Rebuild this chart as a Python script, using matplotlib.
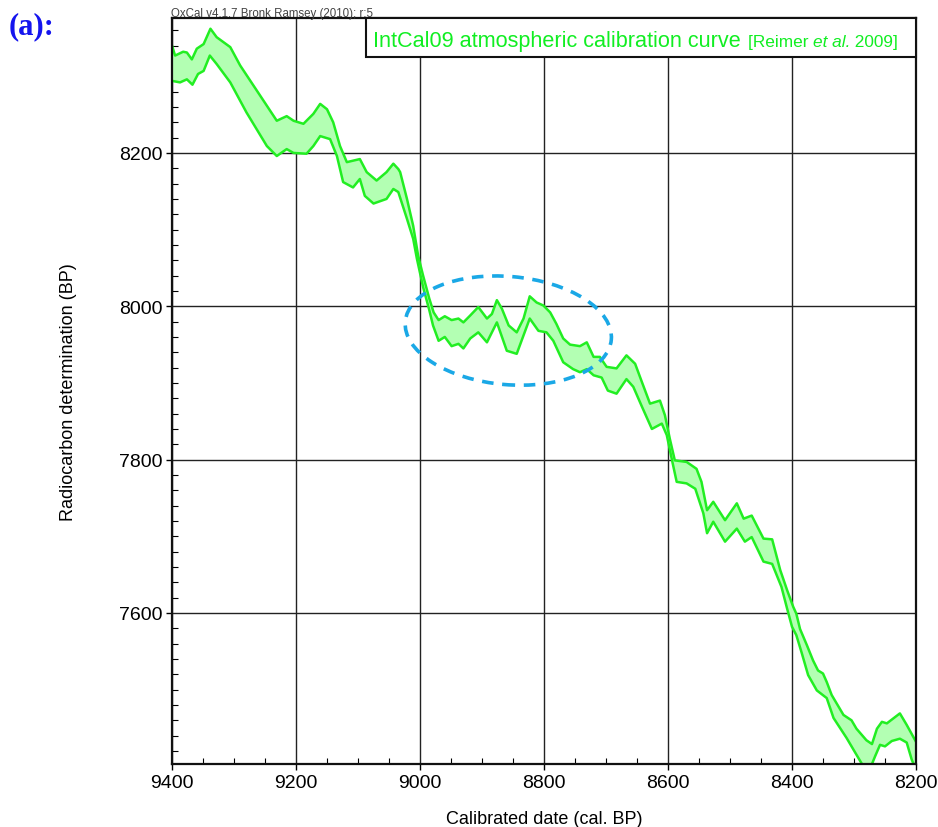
import matplotlib.pyplot as plt
from matplotlib.patches import Ellipse, Rectangle
import numpy as np

plt.rcParams['font.family'] = ['Liberation Sans', 'DejaVu Sans']

# IntCal09 band, upper edge (cal BP, 14C BP)
upper_x = [9400, 9395, 9382, 9376, 9368, 9360, 9349, 9338, 9328, 9306, 9290, 9258,
           9231, 9215, 9204, 9188, 9172, 9161, 9150, 9140, 9129, 9118, 9097, 9086,
           9070, 9054, 9043, 9035, 9032, 9021, 9011, 9003, 8995, 8985, 8978, 8970,
           8960, 8949, 8938, 8930, 8919, 8906, 8892, 8884, 8876, 8868, 8857, 8844,
           8833, 8823, 8812, 8801, 8790, 8780, 8769, 8758, 8742, 8731, 8720, 8710,
           8699, 8683, 8667, 8653, 8642, 8629, 8613, 8605, 8597, 8589, 8570, 8554,
           8546, 8537, 8527, 8508, 8489, 8478, 8465, 8446, 8432, 8419, 8408, 8398,
           8393, 8387, 8376, 8366, 8358, 8350, 8344, 8336, 8317, 8304, 8296, 8280,
           8271, 8263, 8255, 8247, 8226, 8215, 8200]
upper_y = [8340, 8327, 8332, 8331, 8322, 8336, 8342, 8362, 8351, 8338, 8314, 8275,
           8242, 8248, 8242, 8238, 8251, 8264, 8257, 8240, 8209, 8188, 8192, 8175,
           8164, 8175, 8186, 8179, 8175, 8140, 8105, 8066, 8040, 8010, 7992, 7982,
           7987, 7982, 7984, 7979, 7988, 7999, 7984, 7990, 8008, 7997, 7975, 7966,
           7984, 8013, 8005, 8001, 7992, 7977, 7958, 7950, 7948, 7953, 7934, 7934,
           7921, 7919, 7936, 7925, 7901, 7873, 7877, 7858, 7827, 7799, 7797, 7788,
           7771, 7734, 7745, 7721, 7743, 7723, 7727, 7697, 7696, 7656, 7630, 7608,
           7599, 7579, 7558, 7538, 7525, 7521, 7510, 7493, 7467, 7460, 7449, 7434,
           7429, 7449, 7458, 7456, 7469, 7454, 7432]

# lower edge
lower_x = [9400, 9387, 9376, 9367, 9358, 9349, 9339, 9328, 9306, 9280, 9247, 9231,
           9215, 9204, 9183, 9172, 9161, 9145, 9134, 9124, 9108, 9097, 9089, 9075,
           9054, 9043, 9035, 9021, 9011, 9005, 8995, 8985, 8979, 8970, 8960, 8949,
           8938, 8930, 8919, 8906, 8892, 8876, 8860, 8844, 8823, 8809, 8796, 8785,
           8769, 8753, 8742, 8731, 8720, 8707, 8697, 8683, 8667, 8656, 8642, 8626,
           8610, 8602, 8594, 8586, 8570, 8556, 8543, 8537, 8527, 8508, 8489, 8476,
           8465, 8446, 8432, 8417, 8408, 8400, 8393, 8384, 8374, 8360, 8344, 8333,
           8312, 8285, 8275, 8266, 8258, 8250, 8239, 8226, 8215, 8207, 8200]
lower_y = [8294, 8292, 8296, 8289, 8303, 8307, 8327, 8316, 8292, 8253, 8209, 8196,
           8205, 8200, 8199, 8209, 8222, 8218, 8196, 8162, 8155, 8166, 8144, 8134,
           8140, 8153, 8149, 8114, 8088, 8062, 8025, 7995, 7975, 7955, 7960, 7948,
           7951, 7945, 7958, 7966, 7953, 7979, 7942, 7938, 7984, 7968, 7966, 7955,
           7927, 7918, 7914, 7918, 7910, 7907, 7890, 7886, 7905, 7895, 7869, 7840,
           7847, 7832, 7801, 7771, 7769, 7762, 7730, 7704, 7719, 7693, 7710, 7693,
           7699, 7667, 7664, 7634, 7606, 7582, 7571, 7547, 7519, 7499, 7489, 7463,
           7437, 7400, 7395, 7413, 7428, 7426, 7433, 7436, 7431, 7409, 7395]

x_ticks = [9400, 9200, 9000, 8800, 8600, 8400, 8200]
y_ticks = [7600, 7800, 8000, 8200]

line_green = '#22ee22'
fill_green = '#b3ffb3'
text_green = '#11ee22'

fig = plt.figure(figsize=(9.38, 8.28), dpi=100)
ax = fig.add_axes([172 / 938, 63 / 828, 744 / 938, 746 / 828])

band_x = np.concatenate([upper_x, lower_x[::-1]])
band_y = np.concatenate([upper_y, lower_y[::-1]])
ax.fill(band_x, band_y, color=fill_green, lw=0, zorder=2)
ax.plot(upper_x, upper_y, color=line_green, lw=1.8, zorder=3, solid_joinstyle='round')
ax.plot(lower_x, lower_y, color=line_green, lw=1.8, zorder=3, solid_joinstyle='round')

ax.set_xlim(9400, 8200)
ax.set_ylim(7403, 8376)
ax.set_xticks(x_ticks)
ax.set_yticks(y_ticks)
ax.set_xticks(np.arange(8200, 9401, 50), minor=True)
ax.set_yticks(np.arange(7420, 8376, 20), minor=True)
ax.tick_params(which='major', direction='out', length=4, width=1, labelsize=14, pad=3)
ax.tick_params(which='minor', direction='in', length=4, width=0.8)
ax.grid(True, which='major', color='#222222', lw=1, zorder=1)
ax.set_axisbelow(True)
for s in ax.spines.values():
    s.set_linewidth(1.6)
    s.set_color('#111111')
    s.set_zorder(5)

ax.set_xlabel('Calibrated date (cal. BP)', fontsize=13, labelpad=14)
ax.set_ylabel('Radiocarbon determination (BP)', fontsize=13, labelpad=30)

# dashed ellipse highlighting the plateau
ell = Ellipse((0.452, 0.581), 0.278, 0.145, angle=-5, transform=ax.transAxes,
              fill=False, edgecolor='#1aa8e6', lw=2.6, linestyle=(0, (3.2, 2.4)),
              zorder=6)
ax.add_patch(ell)

# legend box
box = Rectangle((0.2608, 0.9477), 0.7392, 0.0523, transform=ax.transAxes,
                facecolor='white', edgecolor='#111111', lw=1.5, zorder=7, clip_on=False)
ax.add_patch(box)

t1 = fig.text(373 / 938, 1 - 47 / 828, 'IntCal09 atmospheric calibration curve',
              color=text_green, fontsize=15.6, zorder=8)
fig.canvas.draw()
r = fig.canvas.get_renderer()
x_next = t1.get_window_extent(r).x1 + 7
t2 = fig.text(x_next / 938, 1 - 47 / 828, '[Reimer ', color=text_green, fontsize=12.4)
x_next = t2.get_window_extent(r).x1
t3 = fig.text(x_next / 938, 1 - 47 / 828, 'et al.', color=text_green, fontsize=12.4,
              style='italic')
x_next = t3.get_window_extent(r).x1
fig.text(x_next / 938, 1 - 47 / 828, ' 2009]', color=text_green, fontsize=12.4)

fig.text(171 / 938, 1 - 17 / 828, 'OxCal v4.1.7 Bronk Ramsey (2010); r:5',
         color='#444444', fontsize=8.3)
fig.text(9 / 938, 1 - 34 / 828, '(a):', color='#1515ee', fontsize=22,
         fontweight='bold', family='Liberation Serif')

fig.savefig('out.png', dpi=100)
